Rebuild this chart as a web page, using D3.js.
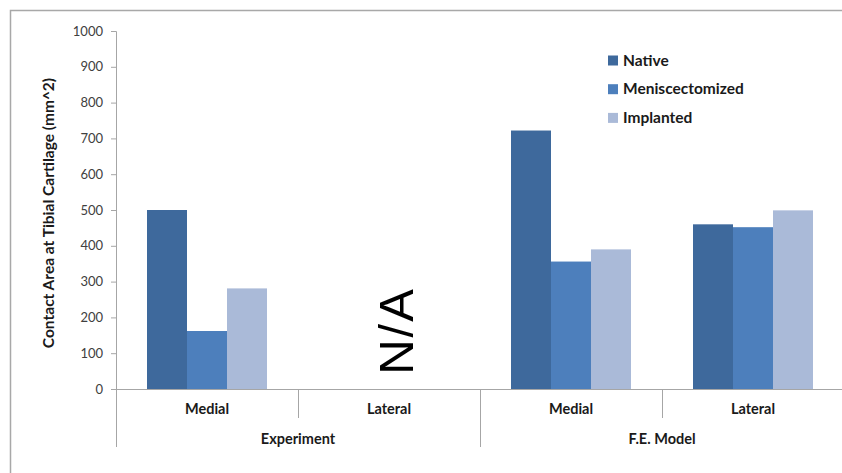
<!DOCTYPE html>
<html>
<head>
<meta charset="utf-8">
<script src="https://cdn.jsdelivr.net/npm/d3@7"></script>
<style>
  html, body { margin: 0; padding: 0; background: #fff; }
  svg { display: block; font-family: Lato, "Open Sans", sans-serif; }
</style>
</head>
<body>
<svg id="chart" width="842" height="473"></svg>
<script>
// Chart data
const groups = ["Experiment", "Experiment", "F.E. Model", "F.E. Model"];
const subCategories = ["Medial", "Lateral", "Medial", "Lateral"];
const seriesNames = ["Native", "Meniscectomized", "Implanted"];
const nativeValues = [500, null, 722, 460];
const meniscectomizedValues = [162, null, 356, 452];
const implantedValues = [281, null, 390, 499];
const yTicks = [0, 100, 200, 300, 400, 500, 600, 700, 800, 900, 1000];
const yTitle = "Contact Area at Tibial Cartilage (mm^2)";
const missingLabel = "N/A";

const seriesValues = [nativeValues, meniscectomizedValues, implantedValues];
const colors = ["#3E699C", "#4D7FBC", "#AABAD8"];

const svg = d3.select("#chart");

// outer frame
svg.append("rect")
  .attr("x", 10.5).attr("y", 10.5)
  .attr("width", 850).attr("height", 480)
  .attr("fill", "none").attr("stroke", "#A8A8A8").attr("stroke-width", 1.5);

const plot = { left: 116, right: 844, top: 31, bottom: 389 };

const y = d3.scaleLinear().domain([0, 1000]).range([plot.bottom, plot.top]);
const slots = d3.range(subCategories.length);
const x0 = d3.scaleBand().domain(slots).range([plot.left, plot.right]).padding(0);
const x1 = d3.scaleBand().domain(seriesNames).range([0, x0.bandwidth()])
  .paddingInner(0).paddingOuter(0.775);

const axisColor = "#A6A6A6";

// y axis
const yAxis = svg.append("g")
  .attr("transform", `translate(${plot.left},0)`)
  .call(d3.axisLeft(y).tickValues(yTicks).tickSize(5).tickPadding(8).tickFormat(d3.format("d")));
yAxis.select(".domain").attr("stroke", axisColor);
yAxis.selectAll(".tick line").attr("stroke", axisColor);
yAxis.selectAll(".tick text")
  .attr("font-family", "Lato, sans-serif")
  .attr("font-size", 13).attr("fill", "#404040");

// bars
const barData = [];
slots.forEach(i => {
  seriesNames.forEach((s, k) => {
    const v = seriesValues[k][i];
    if (v != null) barData.push({ slot: i, series: s, k, value: v });
  });
});
svg.append("g").selectAll("rect")
  .data(barData)
  .join("rect")
  .attr("x", d => x0(d.slot) + x1(d.series))
  .attr("y", d => y(d.value))
  .attr("width", x1.bandwidth())
  .attr("height", d => y(0) - y(d.value))
  .attr("fill", d => colors[d.k]);

// x axis baseline
svg.append("line")
  .attr("x1", plot.left).attr("x2", plot.right)
  .attr("y1", plot.bottom + 0.5).attr("y2", plot.bottom + 0.5)
  .attr("stroke", axisColor);

// category dividers: short between sub categories, long between groups
const boundaries = slots.concat([slots.length]);
boundaries.forEach(i => {
  const bx = i < slots.length ? x0(i) : x0.range()[1];
  const isGroupEdge = i === 0 || i === slots.length || groups[i] !== groups[i - 1];
  svg.append("line")
    .attr("x1", Math.round(bx) + 0.5).attr("x2", Math.round(bx) + 0.5)
    .attr("y1", plot.bottom).attr("y2", isGroupEdge ? 447 : 418)
    .attr("stroke", axisColor);
});

// sub category labels
svg.append("g").selectAll("text")
  .data(slots)
  .join("text")
  .attr("x", i => x0(i) + x0.bandwidth() / 2)
  .attr("y", 409)
  .attr("dy", "0.36em")
  .attr("text-anchor", "middle")
  .attr("font-size", 14.5).attr("font-weight", "bold").attr("fill", "#1a1a1a")
  .text(i => subCategories[i]);

// group labels
const groupNames = Array.from(new Set(groups));
svg.append("g").selectAll("text")
  .data(groupNames)
  .join("text")
  .attr("x", g => {
    const idx = slots.filter(i => groups[i] === g);
    return (x0(idx[0]) + x0(idx[idx.length - 1]) + x0.bandwidth()) / 2;
  })
  .attr("y", 438.5)
  .attr("dy", "0.36em")
  .attr("text-anchor", "middle")
  .attr("font-size", 14.5).attr("font-weight", "bold").attr("fill", "#1a1a1a")
  .text(g => g);

// missing-data marker
slots.filter(i => seriesValues.every(s => s[i] == null)).forEach(i => {
  const cx = x0(i) + x0.bandwidth() / 2 + 6;
  svg.append("text")
    .attr("transform", `translate(${cx},331) rotate(-90)`)
    .attr("text-anchor", "middle")
    .attr("dy", "0.36em")
    .attr("font-family", "'Liberation Sans', Arial, sans-serif")
    .attr("font-size", 49).attr("letter-spacing", 2)
    .attr("fill", "#000")
    .text(missingLabel);
});

// y axis title
svg.append("text")
  .attr("transform", `translate(48,${(plot.top + plot.bottom) / 2 + 3}) rotate(-90)`)
  .attr("text-anchor", "middle")
  .attr("dy", "0.36em")
  .attr("font-size", 15.5).attr("font-weight", "bold").attr("fill", "#1a1a1a")
  .text(yTitle);

// legend
const legend = svg.append("g").attr("transform", "translate(608,60)");
const items = legend.selectAll("g")
  .data(seriesNames)
  .join("g")
  .attr("transform", (d, i) => `translate(0,${i * 28.7})`);
items.append("rect")
  .attr("x", 0).attr("y", -4.5).attr("width", 10).attr("height", 10)
  .attr("fill", (d, i) => colors[i]);
items.append("text")
  .attr("x", 15).attr("y", 0)
  .attr("dy", "0.36em")
  .attr("font-size", 15.5).attr("font-weight", "bold").attr("fill", "#1a1a1a")
  .text(d => d);
</script>
</body>
</html>
